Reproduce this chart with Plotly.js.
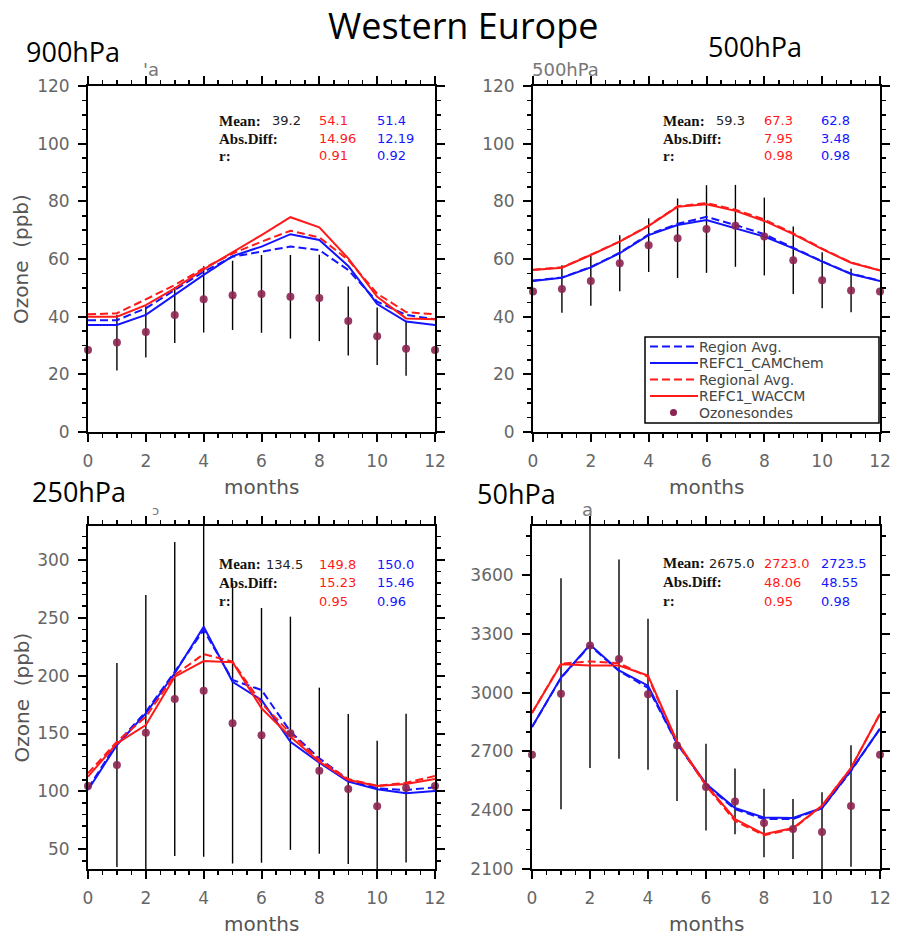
<!DOCTYPE html>
<html>
<head>
<meta charset="utf-8">
<script src="https://cdn.plot.ly/plotly-3.0.1.min.js"></script>
<style>html,body{margin:0;padding:0;background:#fff;}#chart{width:901px;height:936px;}</style>
</head>
<body>
<div id="chart"></div>
<script>
// ---------------- DATA ----------------
const months = [0,1,2,3,4,5,6,7,8,9,10,11,12];
const xTickVals = [0,2,4,6,8,10,12];

// 900 hPa
const p900_obs      = [28.4,31.0,34.7,40.6,46.0,47.4,47.9,46.9,46.5,38.5,33.2,28.9,28.4];
const p900_err      = [null,9.7,8.9,9.7,11.5,12.0,13.5,14.5,15.0,12.0,10.0,9.4,null];
const p900_waccm    = [40.0,40.0,44.0,49.8,56.4,62.2,68.3,74.5,71.0,60.2,46.9,39.4,39.1];
const p900_waccmAvg = [40.8,41.2,46.0,51.0,56.8,61.9,66.0,69.8,67.5,59.7,48.0,41.6,40.8];
const p900_cam      = [37.1,37.1,40.6,47.5,54.5,61.0,64.3,68.6,66.6,57.6,44.4,38.3,37.1];
const p900_camAvg   = [38.8,38.8,42.9,49.2,55.6,60.8,62.5,64.3,63.1,56.2,45.2,40.6,39.1];
const p900_mean = ['39.2','54.1','51.4'];
const p900_abs  = ['14.96','12.19'];
const p900_r    = ['0.91','0.92'];

// 500 hPa
const p500_obs      = [48.7,49.6,52.4,58.5,64.8,67.2,70.4,71.5,67.8,59.6,52.6,49.1,48.7];
const p500_err      = [null,8.2,8.6,9.7,9.3,13.8,15.2,14.2,13.5,11.7,9.7,7.6,null];
const p500_waccm    = [56.2,57.0,61.4,66.0,71.5,78.1,79.0,76.7,73.2,68.6,63.4,58.7,56.0];
const p500_waccmAvg = [56.3,57.1,61.5,66.1,71.6,78.3,79.4,77.1,73.7,68.9,63.6,58.8,56.1];
const p500_cam      = [52.4,53.5,57.1,62.0,68.3,71.8,73.5,70.7,67.8,63.7,59.1,54.8,52.4];
const p500_camAvg   = [52.5,53.6,57.2,62.2,68.5,72.2,74.6,71.8,68.6,64.0,59.2,54.9,52.5];
const p500_mean = ['59.3','67.3','62.8'];
const p500_abs  = ['7.95','3.48'];
const p500_r    = ['0.98','0.98'];

// 250 hPa
const p250_obs      = [104.7,122.8,150.7,179.8,187.0,158.8,148.4,150.2,117.9,102.1,87.1,102.9,104.7];
const p250_err      = [null,88,119,135.5,143.4,121,110,100.7,71.7,64.7,56.7,64.2,null];
const p250_waccm    = [112.7,141.5,157.3,199.1,212.6,211.5,171.8,147.2,125.6,109.8,104.7,106.4,110.7];
const p250_waccmAvg = [115.6,142.9,164.5,200.5,218.6,212.0,176.1,150.2,127.1,110.7,104.9,107.5,113.3];
const p250_cam      = [101.2,140.1,167.4,202.0,242.2,194.7,178.9,142.9,124.8,108.4,101.8,98.4,100.3];
const p250_camAvg   = [102.7,141.5,168.8,203.4,239.4,196.2,187.6,151.6,128.6,109.8,102.7,101.2,103.5];
const p250_mean = ['134.5','149.8','150.0'];
const p250_abs  = ['15.23','15.46'];
const p250_r    = ['0.95','0.96'];

// 50 hPa
const p50_obs      = [2683,2994,3240,3171,2992,2730,2518,2445,2335,2304,2289,2421,2683];
const p50_err      = [null,589,625,508,385,283,221,168,175,153,202,310,null];
const p50_waccm    = [2896,3145,3138,3138,3087,2751,2530,2355,2278,2309,2423,2615,2892];
const p50_waccmAvg = [2896,3148,3159,3150,3080,2745,2525,2345,2272,2305,2423,2615,2892];
const p50_cam      = [2824,3077,3244,3113,3035,2743,2535,2411,2363,2360,2411,2603,2816];
const p50_camAvg   = [2824,3075,3240,3110,3024,2740,2530,2405,2355,2355,2410,2600,2816];
const p50_mean = ['2675.0','2723.0','2723.5'];
const p50_abs  = ['48.06','48.55'];
const p50_r    = ['0.95','0.98'];

const seriesNames = ['Region Avg.','REFC1_CAMChem','Regional Avg.','REFC1_WACCM','Ozonesondes'];
const panelLabels = ['900hPa','500hPa','250hPa','50hPa'];

// ---------------- LAYOUT HELPERS ----------------
const W = 901, H = 936;
const fx = x => x / W;
const fy = y => 1 - y / H;

const BLUE = '#1414ff', RED = '#ff1a1a', DOT = 'rgb(140,35,80)';
const DASH = '8px,4px';

const panels = [
  {ax:'', obs:p900_obs, err:p900_err, w:p900_waccm, wa:p900_waccmAvg, c:p900_cam, ca:p900_camAvg,
   mean:p900_mean, abs:p900_abs, r:p900_r, px:[88,435], py:[86,432], range:[0,120], dtick:20, minor:5,
   statX:[218,271,318,376], statY:[121,138.5,156]},
  {ax:'2', obs:p500_obs, err:p500_err, w:p500_waccm, wa:p500_waccmAvg, c:p500_cam, ca:p500_camAvg,
   mean:p500_mean, abs:p500_abs, r:p500_r, px:[533,880], py:[86,432], range:[0,120], dtick:20, minor:5,
   statX:[662,715,763,820], statY:[121,138.5,156]},
  {ax:'3', obs:p250_obs, err:p250_err, w:p250_waccm, wa:p250_waccmAvg, c:p250_cam, ca:p250_camAvg,
   mean:p250_mean, abs:p250_abs, r:p250_r, px:[88,435], py:[526,869], range:[33,329.2], dtick:50, minor:10,
   statX:[218,265,318,376], statY:[564,582.5,601]},
  {ax:'4', obs:p50_obs, err:p50_err, w:p50_waccm, wa:p50_waccmAvg, c:p50_cam, ca:p50_camAvg,
   mean:p50_mean, abs:p50_abs, r:p50_r, px:[532,880], py:[526,869], range:[2100,3850], dtick:300, minor:100,
   statX:[662,708,763,820], statY:[563,582,601]}
];

const traces = [];
const layout = {
  width: W, height: H,
  margin: {l:0, r:0, t:0, b:0, pad:0},
  paper_bgcolor: '#fff', plot_bgcolor: '#fff',
  showlegend: false,
  annotations: [],
  shapes: [],
  font: {family:'DejaVu Sans'}
};

const tickFont = {family:'DejaVu Sans', size:17, color:'#666'};

panels.forEach((p, i) => {
  const xa = 'x' + p.ax, ya = 'y' + p.ax;
  const common = {xaxis: xa, yaxis: ya, x: months, mode: 'lines', hoverinfo:'skip'};
  // error bars (clipped to the frame)
  traces.push(Object.assign({}, common, {
    y: p.obs, mode:'markers', marker:{size:1, opacity:0}, name:'spread',
    error_y:{type:'data', array:p.err, visible:true, color:'#000', thickness:1.4, width:0}
  }));
  traces.push(Object.assign({}, common, {y:p.ca, name:seriesNames[0], line:{color:BLUE, width:2, dash:DASH}}));
  traces.push(Object.assign({}, common, {y:p.c,  name:seriesNames[1], line:{color:BLUE, width:2}}));
  traces.push(Object.assign({}, common, {y:p.wa, name:seriesNames[2], line:{color:RED, width:2, dash:DASH}}));
  traces.push(Object.assign({}, common, {y:p.w,  name:seriesNames[3], line:{color:RED, width:2}}));
  traces.push(Object.assign({}, common, {y:p.obs, name:seriesNames[4], mode:'markers', cliponaxis:false,
    marker:{color:DOT, size:8, opacity:0.9}}));

  const axBase = {showline:true, linecolor:'#000', linewidth:2, mirror:'ticks',
    ticks:'outside', ticklen:8, tickwidth:2, tickcolor:'#000',
    showgrid:false, zeroline:false, tickfont:tickFont, fixedrange:true};
  layout['xaxis' + p.ax] = Object.assign({}, axBase, {
    domain:[fx(p.px[0]), fx(p.px[1])], anchor: ya, range:[0,12],
    tickvals: xTickVals, ticklabelstandoff: 5,
    minor:{ticks:'outside', ticklen:4, tickwidth:1.5, tickcolor:'#000', dtick:0.5, tick0:0, showgrid:false}
  });
  layout['yaxis' + p.ax] = Object.assign({}, axBase, {
    domain:[fy(p.py[1]), fy(p.py[0])], anchor: xa, range:p.range,
    tick0:0, dtick:p.dtick, ticklabelstandoff: 5,
    minor:{ticks:'outside', ticklen:4, tickwidth:1.5, tickcolor:'#000', dtick:p.minor, tick0:0, showgrid:false}
  });

  // statistics box
  const lab = {family:'Liberation Serif', size:15, color:'#111'};
  const num = c => ({family:'DejaVu Sans', size:13, color:c});
  const A = (t, x, y, f) => layout.annotations.push({text:t, x:fx(x), y:fy(y), xref:'paper', yref:'paper',
    xanchor:'left', yanchor:'middle', showarrow:false, font:f, borderpad:0});
  A('<b>Mean:</b>', p.statX[0], p.statY[0], lab);
  A('<b>Abs.Diff:</b>', p.statX[0], p.statY[1], lab);
  A('<b>r:</b>', p.statX[0], p.statY[2], lab);
  A(p.mean[0], p.statX[1], p.statY[0], num('#222'));
  A(p.mean[1], p.statX[2], p.statY[0], num(RED));
  A(p.mean[2], p.statX[3], p.statY[0], num(BLUE));
  A(p.abs[0], p.statX[2], p.statY[1], num(RED));
  A(p.abs[1], p.statX[3], p.statY[1], num(BLUE));
  A(p.r[0], p.statX[2], p.statY[2], num(RED));
  A(p.r[1], p.statX[3], p.statY[2], num(BLUE));

  // axis titles
  const cx = (p.px[0] + p.px[1]) / 2;
  layout.annotations.push({text:'months', x:fx(cx), y:fy(p.py[1] + 55), xref:'paper', yref:'paper',
    xanchor:'center', yanchor:'middle', showarrow:false, font:{family:'DejaVu Sans', size:20, color:'#555'}});
  if (i % 2 === 0) {
    layout.annotations.push({text:'Ozone  (ppb)', x:fx(21), y:fy((p.py[0] + p.py[1]) / 2), xref:'paper', yref:'paper',
      xanchor:'center', yanchor:'middle', textangle:-90, showarrow:false,
      font:{family:'DejaVu Sans', size:20, color:'#555'}});
  }
});

// legend (500 hPa panel) drawn as a keyed box
const legBox = {x0:645, x1:879, y0:337, y1:423};
const legRows = [346.5, 363, 379.5, 396, 412.5];
const legStyles = [{color:BLUE, dash:DASH}, {color:BLUE, dash:'solid'}, {color:RED, dash:DASH}, {color:RED, dash:'solid'}];
layout.shapes.push({type:'rect', xref:'paper', yref:'paper', x0:fx(legBox.x0), x1:fx(legBox.x1),
  y0:fy(legBox.y1), y1:fy(legBox.y0), line:{color:'#000', width:1.5}, fillcolor:'#fff', layer:'above'});
legStyles.forEach((s, k) => layout.shapes.push({type:'line', xref:'paper', yref:'paper',
  x0:fx(650), x1:fx(698), y0:fy(legRows[k]), y1:fy(legRows[k]), line:{color:s.color, width:2, dash:s.dash}, layer:'above'}));
layout.shapes.push({type:'circle', xref:'paper', yref:'paper', x0:fx(670), x1:fx(677),
  y0:fy(legRows[4] + 3.5), y1:fy(legRows[4] - 3.5), fillcolor:DOT, line:{width:0}, layer:'above'});
seriesNames.forEach((t, k) => layout.annotations.push({text:t, x:fx(698), y:fy(legRows[k]),
  xref:'paper', yref:'paper', xanchor:'left', yanchor:'middle', showarrow:false, borderpad:0,
  font:{family:'DejaVu Sans', size:14, color:'#444'}}));

// panel labels and figure title
const big = s => ({family:'Open Sans', size:s, color:'#000'});
const labelPos = [[24,51],[706,46],[30,491],[475,493]];
panelLabels.forEach((t, i) => layout.annotations.push({text:t, x:fx(labelPos[i][0]), y:fy(labelPos[i][1]),
  xref:'paper', yref:'paper', xanchor:'left', yanchor:'middle', showarrow:false, font:big(27)}));
layout.annotations.push({text:'Western Europe', x:fx(464), y:fy(25), xref:'paper', yref:'paper',
  xanchor:'center', yanchor:'middle', showarrow:false, font:big(36)});

// faint remnants of the original plot titles
const gray = s => ({family:'DejaVu Sans', size:s, color:'#777'});
[["'a",141,70,18],['500hPa',530,70,18],['ɔ',150,511,13],['a',580,510,18]].forEach(g =>
  layout.annotations.push({text:g[0], x:fx(g[1]), y:fy(g[2]), xref:'paper', yref:'paper',
    xanchor:'left', yanchor:'middle', showarrow:false, font:gray(g[3])}));

Plotly.newPlot('chart', traces, layout, {displayModeBar:false, staticPlot:true});
</script>
</body>
</html>
